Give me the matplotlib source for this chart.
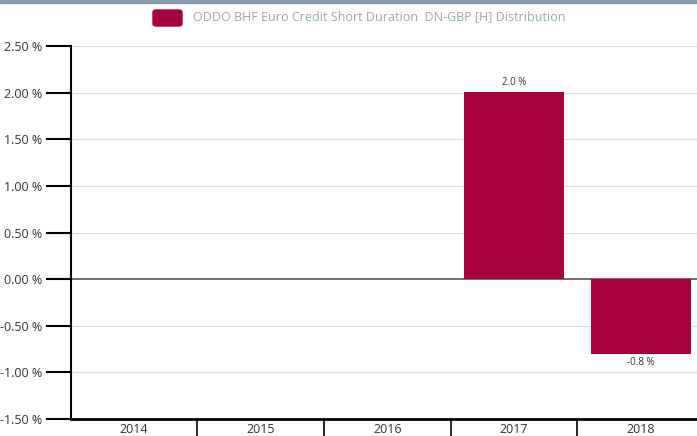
import matplotlib.pyplot as plt
from matplotlib.patches import Rectangle, FancyBboxPatch

# Данные
years = ['2014', '2015', '2016', '2017', '2018']
values = [None, None, None, 2.01, -0.8]
labels = ['', '', '', '2.0 %', '-0.8 %']
series_name = 'ODDO BHF Euro Credit Short Duration  DN-GBP [H] Distribution'

bar_color = '#a6003c'
plt.rcParams['font.family'] = ['Open Sans', 'DejaVu Sans']

fig = plt.figure(figsize=(6.97, 4.36), dpi=100)
# область графика чуть шире картинки, как в оригинале
ax = fig.add_axes([70.5 / 697, 17 / 436, 633.5 / 697, 373 / 436])

x = list(range(len(years)))
for i, v in enumerate(values):
    if v is None:
        continue
    ax.bar(i, v, width=0.79, color=bar_color, zorder=3)
    if v >= 0:
        ax.text(i, v + 0.04, labels[i], ha='center', va='bottom', fontsize=7, color='#333333')
    else:
        ax.text(i, v - 0.04, labels[i], ha='center', va='top', fontsize=7, color='#333333')

ax.set_xlim(-0.5, 4.5)
ax.set_ylim(-1.5, 2.5)

yt = [-1.5, -1.0, -0.5, 0.0, 0.5, 1.0, 1.5, 2.0, 2.5]
ax.set_yticks(yt)
ax.set_yticklabels([f'{t:.2f} %' for t in yt], fontsize=9, color='#333333')
ax.tick_params(axis='y', length=18, width=1.5, color='black', pad=2)
for t in yt:
    if t == 0:
        ax.axhline(t, color='#555555', linewidth=1.2, zorder=2)
    else:
        ax.axhline(t, color='#dddddd', linewidth=0.8, zorder=1)

# x: разделители категорий и подписи по центру
ax.set_xticks([0.5, 1.5, 2.5, 3.5])
ax.set_xticklabels([])
ax.tick_params(axis='x', which='major', length=17, width=1.2, color='black', direction='out')
ax.set_xticks(x, minor=True)
ax.set_xticklabels(years, minor=True, fontsize=9, color='#333333')
ax.tick_params(axis='x', which='minor', length=0, pad=3)

for s in ['top', 'right']:
    ax.spines[s].set_visible(False)
ax.spines['left'].set_linewidth(1.5)
ax.spines['bottom'].set_linewidth(2)

# Легенда
fig.add_artist(FancyBboxPatch((153 / 697, 1 - 26 / 436), 29 / 697, 16 / 436,
                              boxstyle='round,pad=0,rounding_size=0.005',
                              transform=fig.transFigure, color=bar_color))
fig.text(193 / 697, 1 - 17 / 436, series_name, fontsize=9, color='#9aa6b0', va='center')

# Серая полоса сверху
fig.add_artist(Rectangle((0, 1 - 3 / 436), 1, 3 / 436, transform=fig.transFigure,
                         color='#8a9bab'))

fig.savefig('out.png', dpi=100)
